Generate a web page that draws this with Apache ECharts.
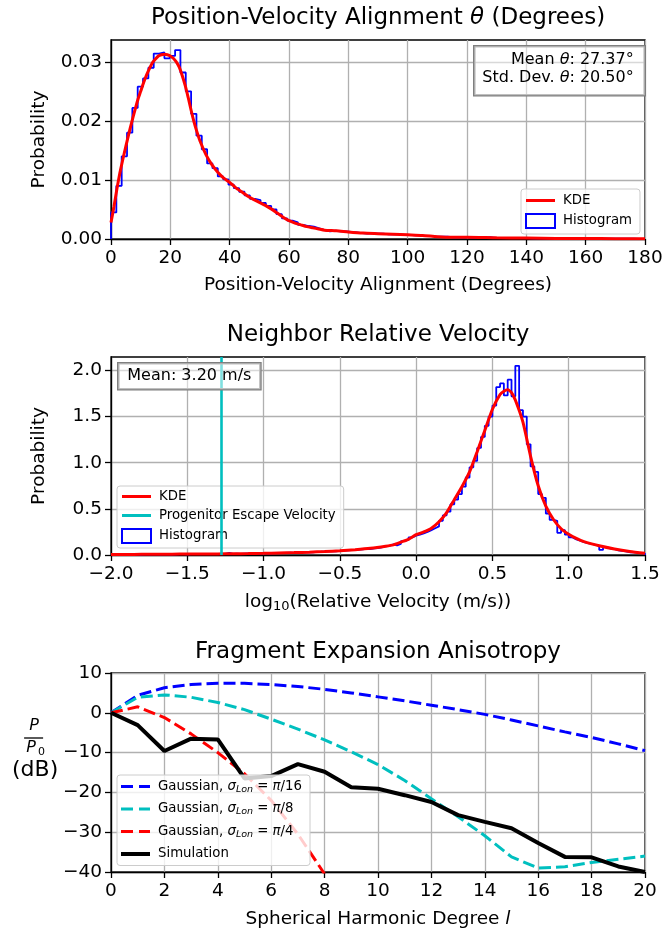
<!DOCTYPE html>
<html><head><meta charset="utf-8">
<script src="https://cdn.jsdelivr.net/npm/echarts@6/dist/echarts.min.js"></script>
<style>html,body{margin:0;padding:0;background:#fff}#c{width:666px;height:934px}</style>
</head><body><div id="c"></div>
<script>
// ---------- Panel 1: position-velocity alignment ----------
const thetaBinStart = 0;
const thetaBinWidth = 1.8;
const thetaHist = [
  0.0045,0.0090,0.0140,0.0180,0.0222,0.0258,0.0272,0.0290,0.0314,0.0316,
  0.0306,0.0310,0.0320,0.0282,0.0250,0.0212,0.0175,0.0152,0.0128,0.0120,
  0.0106,0.0101,0.0092,0.0086,0.0080,0.0074,0.0068,0.0066,0.0061,0.0056,
  0.0050,0.0042,0.0035,0.0031,0.0028,0.0024,0.0022,0.0021,0.0018,0.0015,
  0.0013,0.0014,0.0013,0.0013,0.0012,0.0011,0.0010,0.0009,0.0010,0.0009,
  0.0009,0.0008,0.0008,0.0008,0.0007,0.0007,0.0006,0.0006,0.0005,0.0005,
  0.0004,0.0004,0.0004,0.0003,0.0003,0.0003,0.0003,0.0002,0.0002,0.0002,
  0.0003,0.0002,0.0002,0.0002,0.0002,0.00015,0.00015,0.00015,0.00012,0.00012,
  0.00012,0.0001,0.0001,0.0001,0.0001,0.0001,0.00008,0.00008,0.00008,0.00007,
  0.00007,0.00006,0.00006,0.00005,0.00005,0.00005,0.00004,0.00004,0.00003,0.00003
];
const thetaKdeX = [0,1,2,3,4,5,6,7,8,9,10,11,12,13,14,15,16,17,18,19,20,21,22,23,24,25,26,27,28,29,30,
  32,34,36,38,40,42,44,46,48,50,52,54,56,58,60,62,64,66,68,70,72,76,80,85,90,95,100,105,110,115,120,130,140,150,160,170,180];
const thetaKdeY = [0.0028,0.0055,0.0085,0.0112,0.0135,0.0157,0.0178,0.0198,0.0217,0.0235,0.0250,0.0265,0.0278,0.0289,0.0299,0.0305,0.0310,0.0312,0.0313,0.0312,0.0310,0.0306,0.0300,0.0291,0.0277,0.0260,0.0240,0.0218,0.0198,0.0181,0.0166,
  0.0143,0.0126,0.0113,0.0103,0.0096,0.0087,0.0080,0.0073,0.0067,0.0062,0.0057,0.0051,0.0044,0.0037,0.0031,0.0027,0.0024,0.0021,0.0019,0.0017,0.0015,0.0014,0.0012,0.0010,0.0009,0.0008,0.0007,0.0006,0.0004,0.0003,0.0003,0.0002,0.00015,0.0001,0.0001,0.00005,0.00003];
const thetaMean = 27.37;
const thetaStd = 20.50;
const thetaXTicks = [0,20,40,60,80,100,120,140,160,180];
const thetaYTicks = [0,0.01,0.02,0.03];

// ---------- Panel 2: neighbor relative velocity ----------
const velBinStart = -2.0;
const velBinWidth = 0.025;
const velHist = [
  0.003,0.005,0.004,0.006,0.005,0.007,0.006,0.005,0.007,0.006,
  0.008,0.007,0.006,0.008,0.009,0.007,0.008,0.010,0.009,0.008,
  0.010,0.011,0.009,0.012,0.010,0.011,0.013,0.012,0.010,0.013,
  0.024,0.012,0.014,0.013,0.015,0.016,0.014,0.017,0.016,0.018,
  0.019,0.018,0.021,0.020,0.023,0.022,0.025,0.024,0.027,0.028,
  0.029,0.031,0.030,0.034,0.035,0.037,0.039,0.041,0.040,0.045,
  0.047,0.050,0.053,0.056,0.058,0.062,0.066,0.064,0.072,0.076,
  0.082,0.095,0.098,0.115,0.105,0.120,0.150,0.165,0.190,0.210,
  0.220,0.235,0.250,0.270,0.290,0.310,0.370,0.430,0.470,0.550,
  0.600,0.660,0.740,0.840,0.950,1.020,1.160,1.280,1.400,1.500,
  1.620,1.820,1.860,1.730,1.900,1.720,2.050,1.570,1.500,1.200,
  0.960,0.900,0.660,0.620,0.450,0.380,0.370,0.240,0.270,0.220,
  0.190,0.170,0.155,0.140,0.130,0.120,0.110,0.100,0.055,0.085,
  0.070,0.065,0.050,0.045,0.040,0.030,0.030,0.025,0.020,0.015
];
const velKdeX = [-2.0,-1.9,-1.8,-1.7,-1.6,-1.5,-1.4,-1.3,-1.2,-1.1,-1.0,-0.9,-0.8,-0.7,-0.6,-0.5,-0.4,-0.3,-0.2,-0.15,-0.1,-0.05,
  0.0,0.05,0.1,0.15,0.2,0.25,0.3,0.35,0.4,0.45,0.5,0.55,0.575,0.6,0.625,0.65,0.7,0.75,0.8,0.85,0.9,0.95,1.0,1.05,1.1,1.2,1.3,1.4,1.5];
const velKdeY = [0.005,0.006,0.007,0.008,0.009,0.010,0.011,0.012,0.013,0.015,0.018,0.022,0.026,0.031,0.037,0.045,0.057,0.072,0.095,0.110,0.140,0.170,
  0.220,0.250,0.290,0.360,0.460,0.600,0.740,0.900,1.120,1.350,1.580,1.740,1.775,1.790,1.760,1.680,1.440,1.070,0.750,0.530,0.385,0.285,0.225,0.180,0.145,0.100,0.065,0.038,0.018];
const velMean = 3.20;
const escapeVelLog = -1.28;
const velXTicks = [-2.0,-1.5,-1.0,-0.5,0.0,0.5,1.0,1.5];
const velYTicks = [0,0.5,1.0,1.5,2.0];

// ---------- Panel 3: fragment expansion anisotropy ----------
const degreeL = [0,1,2,3,4,5,6,7,8,9,10,11,12,13,14,15,16,17,18,19,20];
const gaussPi16 = [0,4.4,6.3,7.1,7.4,7.4,7.1,6.6,5.9,5.0,4.0,3.0,1.9,0.8,-0.4,-1.8,-3.3,-4.8,-6.2,-7.8,-9.5];
const gaussPi8 = [0,3.9,4.5,3.9,2.6,0.8,-1.6,-4.1,-6.8,-9.8,-13.0,-17.0,-21.6,-26.1,-30.9,-36.2,-39.0,-38.7,-37.6,-36.8,-36.0];
const gaussPi4 = [0,1.5,-1.2,-5.3,-10.0,-15.3,-22.0,-30.5,-40.5];
const simulation = [0,-3.1,-9.6,-6.5,-6.7,-16.5,-15.9,-12.9,-14.8,-18.7,-19.1,-20.7,-22.4,-25.7,-27.4,-29.0,-32.7,-36.2,-36.3,-38.6,-40.0];
const ansXTicks = [0,2,4,6,8,10,12,14,16,18,20];
const ansYTicks = [-40,-30,-20,-10,0,10];

// ---------- helpers ----------
const FONT = 'DejaVu Sans';
const TICK_FS = 18.5;
const minus = s => String(s).replace('-', '\u2212');
function stepData(start, w, vals) {
  const d = [[start, 0]];
  vals.forEach((v, i) => d.push([start + i * w, v]));
  const end = start + vals.length * w;
  d.push([end, vals[vals.length - 1]]);
  d.push([end, 0]);
  return d;
}
const zip = (xs, ys) => ys.map((y, i) => [xs[i], y]);

function xAxisCfg(grid, min, max, interval, ticks, fmt, name, nameGap, rich) {
  return {
    type: 'value', gridIndex: grid, min, max, interval,
    axisLine: { show: true, onZero: false, lineStyle: { color: '#000', width: 1.3 } },
    axisTick: { show: true, length: 6, lineStyle: { color: '#000', width: 1.3 }, customValues: ticks },
    axisLabel: { color: '#000', fontSize: TICK_FS, fontFamily: FONT, margin: 10, formatter: fmt, customValues: ticks },
    splitLine: { show: true, lineStyle: { color: '#b0b0b0', width: 1.3 } },
    name, nameLocation: 'middle', nameGap,
    nameTextStyle: { color: '#000', fontSize: TICK_FS, fontFamily: FONT, rich: rich || {} }
  };
}
function yAxisCfg(grid, min, max, interval, ticks, fmt, name) {
  return {
    type: 'value', gridIndex: grid, min, max, interval,
    axisLine: { show: true, onZero: false, lineStyle: { color: '#000', width: 1.3 } },
    axisTick: { show: true, length: 6, lineStyle: { color: '#000', width: 1.3 }, customValues: ticks },
    axisLabel: { color: '#000', fontSize: TICK_FS, fontFamily: FONT, margin: 9, formatter: fmt, customValues: ticks },
    splitLine: { show: true, lineStyle: { color: '#b0b0b0', width: 1.3 } },
    name, nameLocation: 'middle', nameGap: 62, nameRotate: 90,
    nameTextStyle: { color: '#000', fontSize: TICK_FS, fontFamily: FONT }
  };
}

const solidIcon = 'path://M0,0h29v3h-29z';
const thickIcon = 'path://M0,0h29v4h-29z';
const dashIcon = 'path://M0,0h12v3h-12z M18,0h11v3h-11z';
const histLegendItem = { name: 'Histogram', icon: 'rect', itemStyle: { color: '#ffffff', borderColor: '#0000ff', borderWidth: 2 } };
const legendBase = {
  orient: 'vertical', itemWidth: 29, itemHeight: 14, itemGap: 6,
  backgroundColor: 'rgba(255,255,255,0.8)', borderColor: '#cccccc', borderWidth: 1, borderRadius: 3,
  selectedMode: false, itemStyle: { borderWidth: 0 },
  textStyle: { color: '#000', fontSize: 13.3, fontFamily: FONT, padding: [0, 0, 0, 3] }
};

const TITLE_FS = 23;
const titleRich = {
  a: { fontSize: TITLE_FS, fontFamily: FONT, color: '#000', fontWeight: 'normal' },
  i: { fontSize: TITLE_FS, fontFamily: FONT, color: '#000', fontStyle: 'italic', fontWeight: 'normal' }
};
const titleStyle = { fontWeight: 'normal', fontSize: TITLE_FS, fontFamily: FONT, color: '#000', rich: titleRich };

const option = {
  animation: false,
  backgroundColor: '#ffffff',
  textStyle: { fontFamily: FONT },
  title: [
    { text: '{a|Position-Velocity Alignment }{i|\u03b8}{a| (Degrees)}', left: 378, top: 7, textAlign: 'center', padding: 0, textStyle: titleStyle },
    { text: '{a|Neighbor Relative Velocity}', left: 378, top: 324, textAlign: 'center', padding: 0, textStyle: titleStyle },
    { text: '{a|Fragment Expansion Anisotropy}', left: 378, top: 641, textAlign: 'center', padding: 0, textStyle: titleStyle }
  ],
  grid: [
    { left: 111, right: 21, top: 40, height: 199, show: true, borderColor: '#000', borderWidth: 1.3, backgroundColor: 'transparent' },
    { left: 111, right: 21, top: 357, height: 198, show: true, borderColor: '#000', borderWidth: 1.3, backgroundColor: 'transparent' },
    { left: 111, right: 21, top: 673, height: 199, show: true, borderColor: '#000', borderWidth: 1.3, backgroundColor: 'transparent' }
  ],
  xAxis: [
    xAxisCfg(0, 0, 180, 20, thetaXTicks, v => String(v), 'Position-Velocity Alignment (Degrees)', 37),
    xAxisCfg(1, -2.0, 1.5, 0.5, velXTicks, v => minus(v.toFixed(1)),
      '{a|log}{s|10}{a|(Relative Velocity (m/s))}', 37,
      { a: { fontSize: TICK_FS, fontFamily: FONT, color: '#000' }, s: { fontSize: 13, fontFamily: FONT, color: '#000', padding: [8, 0, 0, 0] } }),
    xAxisCfg(2, 0, 20, 2, ansXTicks, v => String(v),
      '{a|Spherical Harmonic Degree }{i|l}', 38,
      { a: { fontSize: TICK_FS, fontFamily: FONT, color: '#000' }, i: { fontSize: TICK_FS, fontFamily: FONT, color: '#000', fontStyle: 'italic' } })
  ],
  yAxis: [
    yAxisCfg(0, 0, 0.0337, 0.01, thetaYTicks, v => v.toFixed(2), 'Probability'),
    yAxisCfg(1, 0, 2.146, 0.5, velYTicks, v => v.toFixed(1), 'Probability'),
    yAxisCfg(2, -40, 10, 10, ansYTicks, v => minus(v), '')
  ],
  legend: [
    Object.assign({}, legendBase, {
      left: 521, top: 189, padding: [5, 8, 5, 4],
      data: [{ name: 'KDE', icon: solidIcon }, histLegendItem]
    }),
    Object.assign({}, legendBase, {
      left: 117, top: 486, padding: [4, 8, 4, 4],
      data: [{ name: 'KDE', icon: solidIcon }, { name: 'Progenitor Escape Velocity', icon: solidIcon }, histLegendItem]
    }),
    Object.assign({}, legendBase, {
      left: 117, top: 775, padding: [5, 8, 5, 4], itemGap: 8,
      data: [{ name: 'g16', icon: dashIcon }, { name: 'g8', icon: dashIcon }, { name: 'g4', icon: dashIcon }, { name: 'Simulation', icon: thickIcon }],
      formatter: n => {
        const m = { g16: '16', g8: '8', g4: '4' };
        if (m[n]) return '{t|Gaussian, }{m|\u03c3}{s|Lon}{t| = }{m|\u03c0}{t|/' + m[n] + '}';
        return '{t|' + n + '}';
      },
      textStyle: {
        color: '#000', fontSize: 13.3, fontFamily: FONT, padding: [0, 0, 0, 3],
        rich: {
          t: { fontSize: 13.3, fontFamily: FONT, color: '#000' },
          m: { fontSize: 13.3, fontFamily: FONT, color: '#000', fontStyle: 'italic' },
          s: { fontSize: 9.5, fontFamily: FONT, color: '#000', fontStyle: 'italic', padding: [6, 0, 0, 0] }
        }
      }
    })
  ],
  series: [
    { name: 'Histogram', type: 'line', xAxisIndex: 0, yAxisIndex: 0, step: 'end', symbol: 'none', z: 2,
      data: stepData(thetaBinStart, thetaBinWidth, thetaHist), lineStyle: { color: '#0000ff', width: 1.8 }, itemStyle: { color: '#0000ff' } },
    { name: 'KDE', type: 'line', xAxisIndex: 0, yAxisIndex: 0, smooth: 0.2, symbol: 'none', z: 3,
      data: zip(thetaKdeX, thetaKdeY), lineStyle: { color: '#ff0000', width: 3 }, itemStyle: { color: '#ff0000' } },

    { name: 'Histogram', type: 'line', xAxisIndex: 1, yAxisIndex: 1, step: 'end', symbol: 'none', z: 2,
      data: stepData(velBinStart, velBinWidth, velHist), lineStyle: { color: '#0000ff', width: 1.8 }, itemStyle: { color: '#0000ff' } },
    { name: 'KDE', type: 'line', xAxisIndex: 1, yAxisIndex: 1, smooth: 0.2, symbol: 'none', z: 3,
      data: zip(velKdeX, velKdeY), lineStyle: { color: '#ff0000', width: 3 }, itemStyle: { color: '#ff0000' } },
    { name: 'Progenitor Escape Velocity', type: 'line', xAxisIndex: 1, yAxisIndex: 1, symbol: 'none', z: 3,
      data: [], lineStyle: { color: '#00bfbf', width: 2.6 }, itemStyle: { color: '#00bfbf' },
      markLine: { silent: true, symbol: 'none', label: { show: false }, animation: false,
        lineStyle: { color: '#00bfbf', width: 2.6, type: 'solid' }, data: [{ xAxis: escapeVelLog }] } },

    { name: 'g16', type: 'line', xAxisIndex: 2, yAxisIndex: 2, symbol: 'none', z: 3,
      data: zip(degreeL, gaussPi16), lineStyle: { color: '#0000ff', width: 3, type: [12, 5] }, itemStyle: { color: '#0000ff' } },
    { name: 'g8', type: 'line', xAxisIndex: 2, yAxisIndex: 2, symbol: 'none', z: 3,
      data: zip(degreeL, gaussPi8), lineStyle: { color: '#00bfbf', width: 3, type: [12, 5] }, itemStyle: { color: '#00bfbf' } },
    { name: 'g4', type: 'line', xAxisIndex: 2, yAxisIndex: 2, symbol: 'none', z: 3, clip: true,
      data: zip(degreeL, gaussPi4), lineStyle: { color: '#ff0000', width: 3, type: [12, 5] }, itemStyle: { color: '#ff0000' } },
    { name: 'Simulation', type: 'line', xAxisIndex: 2, yAxisIndex: 2, symbol: 'none', z: 3,
      data: zip(degreeL, simulation), lineStyle: { color: '#000000', width: 4 }, itemStyle: { color: '#000000' } }
  ],
  graphic: [
    { type: 'text', right: 20, top: 45, z: 10,
      style: {
        text: '{a|Mean }{i|\u03b8}{a|: ' + thetaMean.toFixed(2) + '\u00b0}\n{a|Std. Dev. }{i|\u03b8}{a|: ' + thetaStd.toFixed(2) + '\u00b0}',
        align: 'right', fill: '#000', font: '16px "DejaVu Sans"',
        rich: { a: { fontSize: 16, fontFamily: FONT, lineHeight: 18.5, align: 'right' }, i: { fontSize: 16, fontFamily: FONT, fontStyle: 'italic', lineHeight: 18.5, align: 'right' } },
        backgroundColor: 'rgba(255,255,255,0.5)', borderColor: '#7f7f7f', borderWidth: 1.3,
        padding: [4, 11, 8, 8]
      } },
    { type: 'text', left: 117, top: 362, z: 10,
      style: {
        text: 'Mean: ' + velMean.toFixed(2) + ' m/s', fill: '#000', font: '16px "DejaVu Sans"',
        backgroundColor: 'rgba(255,255,255,0.5)', borderColor: '#7f7f7f', borderWidth: 1.3,
        padding: [5, 9, 5, 9]
      } },
    { type: 'group', left: 12, top: 718, children: [
      { type: 'text', x: 22, y: 9, style: { text: 'P', fill: '#000', font: 'italic 16px "DejaVu Sans"', align: 'center', verticalAlign: 'middle' } },
      { type: 'line', shape: { x1: 12, y1: 21, x2: 31, y2: 21 }, style: { stroke: '#000', lineWidth: 1.3 } },
      { type: 'text', x: 19, y: 31, style: { text: 'P', fill: '#000', font: 'italic 16px "DejaVu Sans"', align: 'center', verticalAlign: 'middle' } },
      { type: 'text', x: 26, y: 35, style: { text: '0', fill: '#000', font: '11px "DejaVu Sans"', align: 'left', verticalAlign: 'middle' } },
      { type: 'text', x: 23, y: 53, style: { text: '(dB)', fill: '#000', font: '22px "DejaVu Sans"', align: 'center', verticalAlign: 'middle' } }
    ] }
  ]
};
const chart = echarts.init(document.getElementById('c'), null, { renderer: 'canvas' });
chart.setOption(option);
</script>
</body></html>
